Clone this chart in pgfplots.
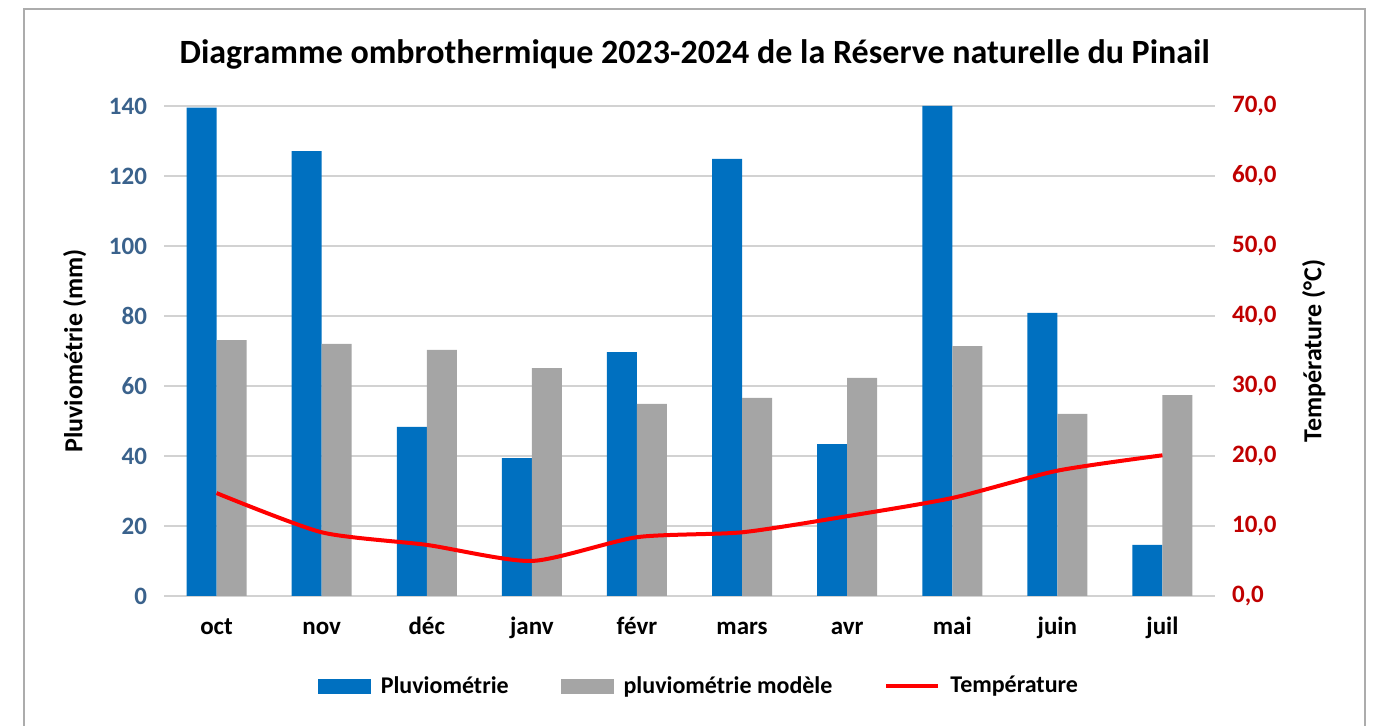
\documentclass[border=0pt]{standalone}
\usepackage{fontspec}
\setmainfont{Carlito}
\usepackage{pgfplots}
\usepackage{pgfplotstable}
\pgfplotsset{compat=1.18}

\definecolor{pluie}{HTML}{0070C0}
\definecolor{modele}{HTML}{A5A5A5}
\definecolor{temp}{HTML}{FF0000}
\definecolor{leftticks}{RGB}{58,98,140}
\definecolor{rightticks}{HTML}{C00000}

% mois: 0=oct ... 9=juil
\pgfplotstableread{
x pluie modele temp
0 139.5 73.1 14.7
1 127.1 72.0 9.1
2 48.3 70.3 7.3
3 39.4 65.1 5.0
4 69.7 54.9 8.4
5 124.9 56.6 9.1
6 43.4 62.3 11.4
7 140.0 71.4 14.0
8 80.9 52.0 17.9
9 14.6 57.4 20.1
}\meteo

\begin{document}
\begin{tikzpicture}
\path[use as bounding box] (0,0) rectangle (688pt,363pt);
\draw[gray!65, line width=1.3pt] (12pt,-2pt) -- (12pt,358.5pt) -- (682.5pt,358.5pt) -- (682.5pt,-2pt);

\pgfplotsset{
  common/.style={
    at={(82pt,65pt)}, anchor=south west,
    scale only axis, width=525.5pt, height=245pt,
    xmin=-0.5, xmax=9.5,
    axis line style={draw=none},
    major tick length=0pt,
    tick label style={font=\bfseries\fontsize{12.5}{14}\selectfont},
    label style={font=\bfseries\fontsize{13}{15}\selectfont},
    /pgf/number format/assume math mode=true,
  }
}

\begin{axis}[
  common,
  ybar, bar width=15pt, ybar=0pt,
  ymin=0, ymax=140, ytick={0,20,...,140},
  ymajorgrids, grid style={gray!35, line width=0.8pt},
  yticklabel style={text=leftticks, xshift=-5pt},
  xtick={0,...,9},
  xticklabels={oct,nov,déc,janv,févr,mars,avr,mai,juin,juil},
  xticklabel style={yshift=-8pt, text height=1.6ex, text depth=0.4ex},
  ylabel={Pluviométrie (mm)},
  ylabel style={at={(axis description cs:-0.085,0.5)}, anchor=center},
  title={Diagramme ombrothermique 2023-2024 de la Réserve naturelle du Pinail},
  title style={at={(axis description cs:0.505,1.08)}, anchor=center,
    font=\bfseries\fontsize{17}{20}\selectfont},
]
\addplot[fill=pluie, draw=none] table[x=x, y=pluie] {\meteo};
\addplot[fill=modele, draw=none] table[x=x, y=modele] {\meteo};
\end{axis}

\begin{axis}[
  common,
  ymin=0, ymax=70, ytick={0,10,...,70},
  axis y line*=right,
  xtick=\empty,
  yticklabel style={text=rightticks, xshift=5pt,
    /pgf/number format/.cd, fixed, fixed zerofill, precision=1, use comma},
  ylabel={Température (°C)},
  ylabel style={at={(axis description cs:1.094,0.5)}, anchor=center, rotate=0},
  y label style={rotate=0},
  legend style={at={(axis description cs:0.51,-0.184)}, anchor=center,
    draw=none, legend columns=3,
    font=\bfseries\fontsize{12}{14}\selectfont,
    /tikz/every odd column/.style={column sep=3pt},
    /tikz/every even column/.style={column sep=24pt}},
]
\addlegendimage{legend image code/.code={\fill[pluie] (0pt,-3.5pt) rectangle (26pt,3.5pt);}}
\addlegendentry{Pluviométrie}
\addlegendimage{legend image code/.code={\fill[modele] (0pt,-3.5pt) rectangle (26pt,3.5pt);}}
\addlegendentry{pluviométrie modèle}
\addplot[temp, line width=2pt, smooth, tension=0.4, line join=round,
  legend image code/.code={\draw[temp, line width=2pt] (0pt,0pt) -- (26pt,0pt);}]
  table[x=x, y=temp] {\meteo};
\addlegendentry{Température}
\end{axis}
\end{tikzpicture}
\end{document}
